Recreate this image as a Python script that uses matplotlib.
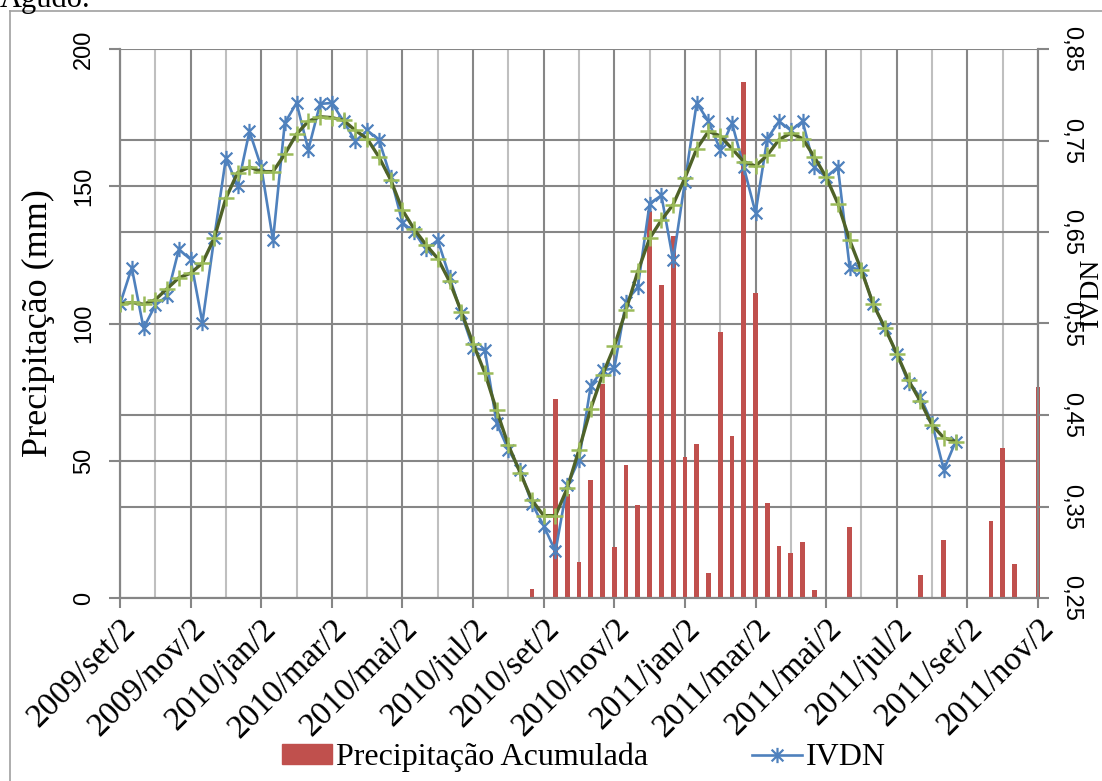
import matplotlib
matplotlib.use('Agg')
import matplotlib.pyplot as plt
from matplotlib.path import Path
from matplotlib.lines import Line2D
from matplotlib.patches import Patch
import numpy as np

# decendial categories from 2009/set/2 up to 2011/nov/2
n_cat = 79
tick_labels = ['2009/set/2', '2009/nov/2', '2010/jan/2', '2010/mar/2', '2010/mai/2',
               '2010/jul/2', '2010/set/2', '2010/nov/2', '2011/jan/2', '2011/mar/2',
               '2011/mai/2', '2011/jul/2', '2011/set/2', '2011/nov/2']

precip = [0.0] * 35 + [
    3.4, 0.3, 72.6, 38, 13, 43, 78, 18.5, 48.5, 34,
    141, 114, 132, 51.5, 56, 9.2, 97, 59, 188, 111,
    34.5, 19, 16.5, 20.5, 3, 0, 0, 26, 0.3, 0,
    0, 0.5, 0, 8.5, 0, 21, 0, 0, 0, 28,
    54.5, 12.5, 0.5, 77]

ivdn = [0.571, 0.611, 0.545, 0.570, 0.580, 0.631, 0.620, 0.551, 0.643, 0.731,
        0.700, 0.760, 0.721, 0.641, 0.769, 0.791, 0.740, 0.790, 0.791, 0.771,
        0.749, 0.761, 0.751, 0.710, 0.660, 0.650, 0.631, 0.641, 0.601, 0.561,
        0.523, 0.521, 0.441, 0.412, 0.390, 0.353, 0.329, 0.301, 0.373, 0.401,
        0.482, 0.499, 0.501, 0.574, 0.590, 0.681, 0.690, 0.619, 0.705, 0.791,
        0.771, 0.740, 0.769, 0.721, 0.671, 0.752, 0.771, 0.761, 0.771, 0.721,
        0.710, 0.721, 0.611, 0.609, 0.571, 0.545, 0.517, 0.485, 0.470, 0.441,
        0.390, 0.421]

ivdn_suav = [0.571, 0.573, 0.571, 0.576, 0.588, 0.600, 0.605, 0.616, 0.643, 0.687,
             0.715, 0.721, 0.716, 0.716, 0.735, 0.757, 0.771, 0.776, 0.775, 0.772,
             0.761, 0.752, 0.732, 0.707, 0.674, 0.653, 0.636, 0.621, 0.596, 0.563,
             0.528, 0.496, 0.455, 0.417, 0.387, 0.357, 0.340, 0.340, 0.370, 0.412,
             0.457, 0.494, 0.525, 0.565, 0.607, 0.643, 0.663, 0.680, 0.709, 0.741,
             0.760, 0.755, 0.741, 0.727, 0.722, 0.734, 0.751, 0.758, 0.752, 0.732,
             0.710, 0.681, 0.641, 0.608, 0.571, 0.545, 0.517, 0.488, 0.465, 0.439,
             0.425, 0.421]

right_ticks = [0.25, 0.35, 0.45, 0.55, 0.65, 0.75, 0.85]

serif = ['Liberation Serif', 'DejaVu Serif']
sans = ['Liberation Sans', 'DejaVu Sans']

dark = '#868686'
light = '#BFBFBF'

# excel-like asterisk marker
star = Path([(-1, -1), (1, 1), (-1, 1), (1, -1), (0, -1.3), (0, 1.3)],
            [Path.MOVETO, Path.LINETO, Path.MOVETO, Path.LINETO, Path.MOVETO, Path.LINETO])

fig = plt.figure(figsize=(11.02, 7.81), dpi=100)
ax = fig.add_axes([120 / 1102, 1 - 598 / 781, 918 / 1102, 549 / 781])
ax2 = ax.twinx()

x = np.arange(n_cat)
ax.bar(x, precip, width=0.4, color='#C0504D', zorder=2, clip_on=False)

ax.set_xlim(0, n_cat - 1)
ax.set_ylim(0, 200)
ax2.set_ylim(0.25, 0.85)

# gridlines (drawn on primary axes so that bars sit on top)
ax.set_axisbelow(True)
ax.set_xticks(np.arange(0, n_cat, 6))
ax.set_xticks(np.arange(3, n_cat, 6), minor=True)
ax.set_yticks([0, 50, 100, 150, 200])
ax.set_yticks([(v - 0.25) / 0.6 * 200 for v in right_ticks[1:-1]], minor=True)
ax.grid(axis='x', which='major', color=dark, lw=1.5)
ax.grid(axis='x', which='minor', color=light, lw=1.5)
ax.grid(axis='y', which='both', color=dark, lw=1.5)

ax.set_xticklabels(tick_labels, rotation=45, ha='right', va='top',
                   rotation_mode='anchor', family=serif, fontsize=24)
ax.set_yticklabels(['0', '50', '100', '150', '200'], rotation=90, va='center',
                   family=sans, fontsize=17)
ax.tick_params(axis='x', which='major', length=7, width=1.5, color=dark, pad=4)
ax.tick_params(axis='both', which='minor', length=0)
ax.tick_params(axis='y', which='major', length=8, width=1.5, color=dark, pad=10)

ax2.plot(x[:len(ivdn)], ivdn, color='#4F81BD', lw=1.9, marker=star, ms=11,
         mew=1.6, mec='#4F81BD', zorder=3)
ax2.plot(x[:len(ivdn_suav)], ivdn_suav, color='#4F6228', lw=2.4, zorder=4)
ax2.plot(x[:len(ivdn_suav)], ivdn_suav, ls='none', marker='+', ms=11, mew=1.8,
         color='#9BBB59', zorder=5)

ax2.set_yticks(right_ticks)
ax2.set_yticklabels([('%.2f' % v).replace('.', ',') for v in right_ticks],
                    rotation=-90, va='center', family=sans, fontsize=17)
ax2.tick_params(axis='y', length=8, width=1.5, color=dark, pad=8)

for a in (ax, ax2):
    a.spines['top'].set_visible(False)
    for s in ('left', 'right', 'bottom'):
        a.spines[s].set_color(dark)
        a.spines[s].set_linewidth(1.5)

ax.set_ylabel('Precipitação (mm)', family=serif, fontsize=26)
ax.yaxis.set_label_coords(-0.071, 0.5)
ax2.set_ylabel('IVDN', family=serif, fontsize=20, rotation=90)
ax2.yaxis.set_label_coords(1.0445, 0.557)

handles = [Patch(color='#C0504D'),
           Line2D([], [], color='#4F81BD', lw=1.9, marker=star, ms=11, mew=1.6)]
fig.legend(handles, ['Precipitação Acumulada', 'IVDN'], loc='center',
           bbox_to_anchor=(0.530, 0.03), ncol=2, frameon=False,
           prop={'family': serif, 'size': 23}, handlelength=1.56,
           handleheight=0.6, handletextpad=0.12, columnspacing=3.25)

# chart area border and the cut caption line above it
fig.add_artist(Line2D([10 / 1102, 10 / 1102], [0, 1 - 11 / 781], color='#A0A0A0', lw=1.2))
fig.add_artist(Line2D([10 / 1102, 1], [1 - 11 / 781, 1 - 11 / 781], color='#A0A0A0', lw=1.2))
fig.text(0.0, 1 - 7 / 781, 'Agudo.', family=serif, fontsize=22, va='baseline')

plt.savefig('out.png', dpi=100)
